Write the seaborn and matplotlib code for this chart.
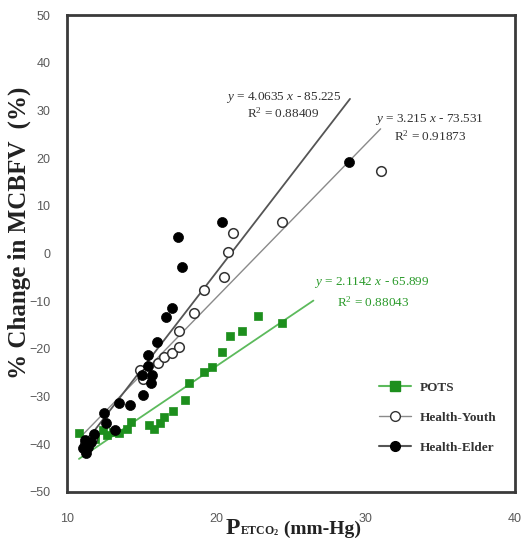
import numpy as np
import pandas as pd
import matplotlib
matplotlib.use("Agg")
import matplotlib.pyplot as plt
from matplotlib.lines import Line2D
from matplotlib.ticker import MultipleLocator
from matplotlib.offsetbox import TextArea, HPacker, AnchoredOffsetbox
import seaborn as sns

# ---- data: end-tidal CO2 (mm-Hg) vs % change in MCBFV ----
pots_x = [10.8, 11.3, 11.9, 12.4, 12.7, 13.1, 13.5, 14.0, 14.3, 15.5, 15.8, 16.2,
          16.5, 17.1, 17.9, 18.2, 19.2, 19.7, 20.4, 20.9, 21.7, 22.8, 24.4]
pots_y = [-37.6, -40.5, -38.8, -37.0, -38.1, -37.4, -37.7, -36.7, -35.3, -36.0, -36.7, -35.5,
          -34.2, -33.0, -30.7, -27.2, -24.8, -23.7, -20.6, -17.4, -16.2, -13.1, -14.5]

youth_x = [11.2, 11.7, 14.9, 15.1, 15.3, 16.1, 16.5, 17.0, 17.5, 17.5, 18.5, 19.2,
           20.5, 20.8, 21.1, 24.4, 31.0]
youth_y = [-40.0, -38.8, -24.5, -26.3, -25.0, -22.9, -21.8, -20.9, -19.5, -16.2, -12.4, -7.7,
           -5.0, 0.4, 4.2, 6.5, 17.2]

elder_x = [11.1, 11.2, 11.4, 11.3, 11.6, 11.8, 12.5, 12.6, 13.2, 13.5, 14.2, 15.1,
           15.0, 15.6, 15.7, 15.4, 15.4, 16.0, 16.6, 17.0, 17.4, 17.7, 20.4, 28.9]
elder_y = [-40.8, -39.1, -40.5, -41.8, -39.6, -37.9, -33.5, -35.5, -37.0, -31.4, -31.8, -29.7,
           -25.5, -27.2, -25.5, -23.5, -21.3, -18.6, -13.3, -11.5, 3.5, -2.8, 6.5, 19.2]

group_names = ["POTS", "Health-Youth", "Health-Elder"]

# linear trendlines: slope, intercept, R^2 and x-span
fit_slope = [2.1142, 3.215, 4.0635]
fit_intercept = [-65.899, -73.531, -85.225]
fit_r2 = ["0.88043", "0.91873", "0.88409"]
fit_x_start = [10.8, 11.0, 11.0]
fit_x_end = [26.5, 31.0, 28.95]

# ---- styling ----
serif = "Liberation Serif"
sans = "Liberation Sans"
green_mark = "#1d8f1d"
green_line = "#5cba5c"
youth_line = "#8a8a8a"
elder_line = "#555555"
line_colors = [green_line, youth_line, elder_line]

sns.set_style("white")
plt.rcParams["mathtext.fontset"] = "custom"
plt.rcParams["mathtext.rm"] = serif
plt.rcParams["mathtext.bf"] = serif + ":bold"
plt.rcParams["mathtext.it"] = serif + ":italic"

df = pd.concat([
    pd.DataFrame({"x": pots_x, "y": pots_y, "group": group_names[0]}),
    pd.DataFrame({"x": youth_x, "y": youth_y, "group": group_names[1]}),
    pd.DataFrame({"x": elder_x, "y": elder_y, "group": group_names[2]}),
])

fig = plt.figure(figsize=(5.21, 5.42), dpi=100)
ax = fig.add_axes([0.1286, 0.0923, 0.8599, 0.880])

# trendlines
for i, name in enumerate(group_names):
    xs = np.array([fit_x_start[i], fit_x_end[i]])
    ys = fit_slope[i] * xs + fit_intercept[i]
    sns.lineplot(x=xs, y=ys, ax=ax, color=line_colors[i],
                 lw=1.3 if i != 1 else 1.0, zorder=2)

# scatter points
sns.scatterplot(data=df[df.group == "POTS"], x="x", y="y", ax=ax, marker="s",
                s=34, color=green_mark, edgecolor=green_mark, linewidth=0.5, zorder=3)
sns.scatterplot(data=df[df.group == "Health-Youth"], x="x", y="y", ax=ax, marker="o",
                s=48, facecolor="white", edgecolor="#333333", linewidth=1.1, zorder=4)
sns.scatterplot(data=df[df.group == "Health-Elder"], x="x", y="y", ax=ax, marker="o",
                s=52, color="black", edgecolor="black", linewidth=0.5, zorder=5)

ax.set_xlim(10, 40)
ax.set_ylim(-50, 50)
ax.xaxis.set_major_locator(MultipleLocator(10))
ax.xaxis.set_minor_locator(MultipleLocator(5))
ax.yaxis.set_major_locator(MultipleLocator(10))
ax.tick_params(axis="both", which="both", direction="inout", length=6, width=1.4,
               colors="#333333", labelcolor="#5a5a5a", labelsize=9)
ax.tick_params(axis="x", which="minor", length=4)
ax.tick_params(axis="y", which="major", pad=9)
ax.tick_params(axis="x", which="major", pad=12)
for lab in ax.get_xticklabels() + ax.get_yticklabels():
    lab.set_fontfamily(sans)
ax.tick_params(right=False, top=False)
for sp in ax.spines.values():
    sp.set_visible(True)
    sp.set_linewidth(2.0)
    sp.set_color("#3a3a3a")

ax.set_xlabel("")
ax.set_ylabel("% Change in MCBFV  (%)", fontfamily=serif, fontweight="bold",
              fontsize=18, color="#222222")
ax.yaxis.set_label_coords(-0.08, 0.543)

# x-axis title: P with small-caps ETCO and subscript 2
lab_color = "#222222"
parts = [
    TextArea("P", textprops=dict(family=serif, weight="bold", size=17, color=lab_color)),
    TextArea(r"ETCO$_\mathbf{2}$", textprops=dict(family=serif, weight="bold", size=8.5,
                                                  color=lab_color)),
    TextArea(" (mm-Hg)", textprops=dict(family=serif, weight="bold", size=14,
                                        color=lab_color)),
]
xtitle = HPacker(children=parts, align="baseline", pad=0, sep=0)
ax.add_artist(AnchoredOffsetbox(loc="upper center", child=xtitle, frameon=False,
                                bbox_to_anchor=(0.505, -0.055),
                                bbox_transform=ax.transAxes, pad=0, borderpad=0))

# trendline equations
eq_pos = [(30.4, -6.0), (34.3, 28.0), (24.5, 32.8)]
r2_pos = [(30.5, -10.2), (34.3, 24.6), (24.5, 29.4)]
text_colors = ["#2a9a2a", "#333333", "#333333"]
for i in range(3):
    sign = "-" if fit_intercept[i] < 0 else "+"
    eq = rf"$\it{{y}}$ = {fit_slope[i]} $\it{{x}}$ {sign} {abs(fit_intercept[i])}"
    ax.text(*eq_pos[i], eq, fontfamily=serif, fontsize=9.5, color=text_colors[i],
            ha="center", va="center")
    ax.text(*r2_pos[i], rf"R$^2$ = {fit_r2[i]}", fontfamily=serif, fontsize=9.5,
            color=text_colors[i], ha="center", va="center")

# legend
handles = [
    Line2D([0], [0], color=green_line, lw=1.5, marker="s", markersize=7,
           markerfacecolor=green_mark, markeredgecolor=green_mark),
    Line2D([0], [0], color=youth_line, lw=1.0, marker="o", markersize=7,
           markerfacecolor="white", markeredgecolor="#333333"),
    Line2D([0], [0], color=elder_line, lw=1.5, marker="o", markersize=7,
           markerfacecolor="black", markeredgecolor="black"),
]
leg = ax.legend(handles, group_names, loc="lower right", bbox_to_anchor=(0.985, 0.055),
                frameon=False, handlelength=2.4, labelspacing=1.35, handletextpad=0.7,
                prop={"family": serif, "weight": "bold", "size": 9.5})
for t in leg.get_texts():
    t.set_color("#333333")

fig.savefig("out.png", dpi=100)
